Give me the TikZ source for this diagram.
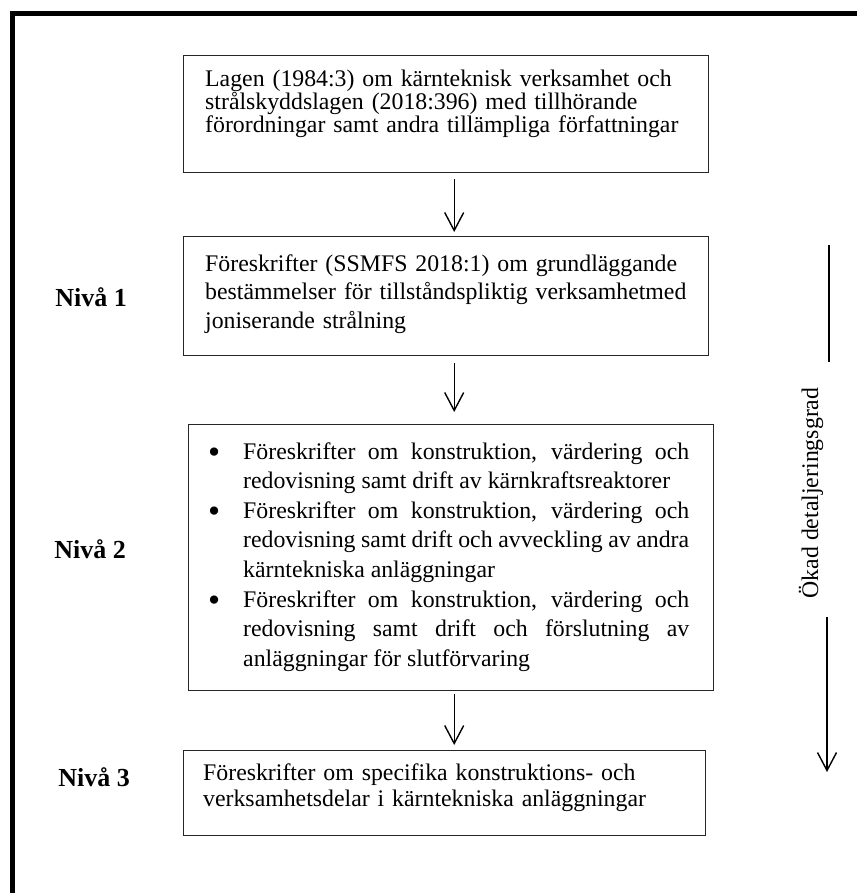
\documentclass[tikz,border=0pt]{standalone}
\usepackage{fontspec}
\usepackage{graphicx}
\setmainfont{Liberation Serif}
\usetikzlibrary{arrows.meta}
\newcommand{\bigbul}{\makebox[35pt][l]{\raisebox{-4pt}{\scalebox{1.45}{\textbullet}}}}
\begin{document}
\begin{tikzpicture}[x=1pt,y=-1pt,
  boxstyle/.style={draw=black!85, line width=1.4pt, rectangle, inner sep=0pt, anchor=north west},
  txt/.style={anchor=base west, inner sep=0pt, align=left, text width=#1},
  lvl/.style={font=\fontsize{26}{26}\selectfont\bfseries, inner sep=0pt, anchor=base},
  arr/.style={line width=1.4pt, -{Straight Barb[length=18pt,width=19pt,line width=1.4pt]}},
  plainline/.style={line width=1.4pt},
]
\useasboundingbox (0,0) rectangle (857,893);
% outer frame (top and left only)
\draw[line width=5pt, line join=miter] (12.5,893) -- (12.5,14) -- (857,14);

% boxes
\node[boxstyle, minimum width=525pt, minimum height=117pt] (b1) at (183,55) {};
\node[boxstyle, minimum width=525pt, minimum height=119pt] (b2) at (183,236) {};
\node[boxstyle, minimum width=525pt, minimum height=266pt] (b3) at (188,424) {};
\node[boxstyle, minimum width=522pt, minimum height=85pt] (b4) at (183,750) {};

% texts
\node[txt=500pt, font=\fontsize{23.8}{23}\selectfont] (t1) at (205,87)
  {Lagen (1984:3) om kärnteknisk verksamhet och\\strålskyddslagen (2018:396) med tillhörande\\förordningar samt andra tillämpliga författningar};
\node[txt=500pt, font=\fontsize{23.8}{28.5}\selectfont] (t2) at (205,271)
  {Föreskrifter (SSMFS 2018:1) om grundläggande\\bestämmelser för tillståndspliktig verksamhetmed\\joniserande strålning};
\node[anchor=base west, inner sep=0pt, text width=481pt, align=justify,
      font=\fontsize{23.8}{29.6}\selectfont] (t3) at (208,459)
  {\emergencystretch=20pt
   \noindent\hangindent=35pt\hangafter=1\bigbul Föreskrifter om konstruktion, värdering och\linebreak redovisning samt drift av kärnkraftsreaktorer\par
   \noindent\hangindent=35pt\hangafter=1\bigbul Föreskrifter om konstruktion, värdering och\linebreak redovisning samt drift och avveckling av andra\linebreak kärntekniska anläggningar\par
   \noindent\hangindent=35pt\hangafter=1\bigbul Föreskrifter om konstruktion, värdering och\linebreak redovisning samt drift och förslutning av\linebreak anläggningar för slutförvaring\par};
\node[txt=500pt, font=\fontsize{23.8}{26.5}\selectfont] (t4) at (203,780)
  {Föreskrifter om specifika konstruktions- och\\verksamhetsdelar i kärntekniska anläggningar};

% level labels
\node[lvl] (n1) at (91,306) {Nivå 1};
\node[lvl] (n2) at (90,558) {Nivå 2};
\node[lvl] (n3) at (94,786) {Nivå 3};

% arrows between boxes
\draw[arr] ([xshift=8pt,yshift=-6pt]b1.south) -- ([xshift=8pt,yshift=4pt]b2.north);
\draw[arr] ([xshift=8pt,yshift=-7pt]b2.south) -- ([xshift=3pt,yshift=12pt]b3.north);
\draw[arr] ([xshift=3pt,yshift=-3pt]b3.south) -- ([xshift=9.5pt,yshift=5pt]b4.north);

% right side indicator
\coordinate (rtop) at (829,245);
\coordinate (rtopend) at (829,362);
\coordinate (rbot) at (827,617);
\coordinate (rtip) at (827,772);
\node[rotate=90, inner sep=0pt, font=\fontsize{23.8}{24}\selectfont] (rl) at (811,493) {Ökad detaljeringsgrad};
\draw[plainline] (rtop) -- (rtopend);
\draw[arr] (rbot) -- (rtip);
\end{tikzpicture}
\end{document}
